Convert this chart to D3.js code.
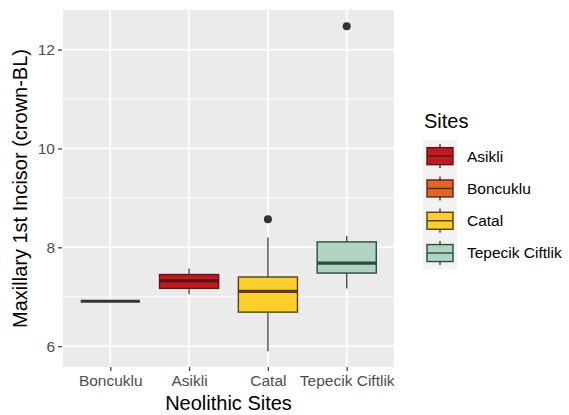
<!DOCTYPE html>
<html>
<head>
<meta charset="utf-8">
<script src="https://cdn.jsdelivr.net/npm/d3@7"></script>
<style>
  html, body { margin: 0; padding: 0; background: #ffffff; }
  svg { display: block; font-family: "Liberation Sans", Arial, sans-serif; }
</style>
</head>
<body>
<svg id="chart" width="569" height="415"></svg>
<script>
// ---- data ----
const sites = ["Boncuklu", "Asikli", "Catal", "Tepecik Ciftlik"];
const whiskerLow  = [6.91, 7.05, 5.90, 7.17];
const q1          = [6.91, 7.17, 6.69, 7.48];
const median      = [6.91, 7.32, 7.11, 7.68];
const q3          = [6.91, 7.45, 7.40, 8.11];
const whiskerHigh = [6.91, 7.57, 8.20, 8.23];
const outliers    = [[], [], [8.57], [12.47]];
const yTicks = [6, 8, 10, 12];
const yMinor = [7, 9, 11];
const legendSites = ["Asikli", "Boncuklu", "Catal", "Tepecik Ciftlik"];
const fillColors = {"Asikli": "#c0191f", "Boncuklu": "#e0642c", "Catal": "#fccd2e", "Tepecik Ciftlik": "#afd4c2"};
const lineColors = {"Asikli": "#5a1414", "Boncuklu": "#333333", "Catal": "#55420f", "Tepecik Ciftlik": "#2f4a3c"};

// ---- layout ----
const svg = d3.select("#chart");
const panel = {left: 63, right: 394, top: 10, bottom: 367};

const x = d3.scalePoint().domain(sites).range([panel.left, panel.right]).padding(0.6);
const y = d3.scaleLinear().domain([5.58, 12.80]).range([panel.bottom, panel.top]);
const boxW = x.step() * 0.75;

// panel background
svg.append("rect")
  .attr("x", panel.left).attr("y", panel.top)
  .attr("width", panel.right - panel.left).attr("height", panel.bottom - panel.top)
  .attr("fill", "#ebebeb");

// grid
const g = svg.append("g");
g.selectAll("line.minor").data(yMinor).enter().append("line")
  .attr("x1", panel.left).attr("x2", panel.right)
  .attr("y1", d => y(d)).attr("y2", d => y(d))
  .attr("stroke", "#ffffff").attr("stroke-width", 0.9);
g.selectAll("line.majory").data(yTicks).enter().append("line")
  .attr("x1", panel.left).attr("x2", panel.right)
  .attr("y1", d => y(d)).attr("y2", d => y(d))
  .attr("stroke", "#ffffff").attr("stroke-width", 1.8);
g.selectAll("line.majorx").data(sites).enter().append("line")
  .attr("x1", d => x(d)).attr("x2", d => x(d))
  .attr("y1", panel.top).attr("y2", panel.bottom)
  .attr("stroke", "#ffffff").attr("stroke-width", 1.8);

// axes
const yAxis = d3.axisLeft(y).tickValues(yTicks).tickSize(4).tickPadding(3).tickFormat(d3.format("d"));
const yg = svg.append("g").attr("transform", `translate(${panel.left - 1},0)`).call(yAxis);
yg.select(".domain").remove();
yg.selectAll(".tick line").attr("stroke", "#333333").attr("stroke-width", 1.2);
yg.selectAll(".tick text").attr("fill", "#4d4d4d").style("font-size", "15.5px");

const xAxis = d3.axisBottom(x).tickSize(4).tickPadding(4);
const xg = svg.append("g").attr("transform", `translate(0,${panel.bottom})`).call(xAxis);
xg.select(".domain").remove();
xg.selectAll(".tick line").attr("stroke", "#333333").attr("stroke-width", 1.2);
xg.selectAll(".tick text").attr("fill", "#4d4d4d").style("font-size", "15.5px").attr("dy", "0.72em");

// boxes
const data = sites.map((s, i) => ({site: s, lo: whiskerLow[i], q1: q1[i], med: median[i], q3: q3[i], hi: whiskerHigh[i], out: outliers[i]}));
const bx = svg.append("g");
data.forEach(d => {
  const cx = x(d.site);
  const grp = bx.append("g");
  // whiskers
  grp.append("line").attr("x1", cx).attr("x2", cx).attr("y1", y(d.hi)).attr("y2", y(d.q3))
    .attr("stroke", "#4d4d4d").attr("stroke-width", 1.4);
  grp.append("line").attr("x1", cx).attr("x2", cx).attr("y1", y(d.q1)).attr("y2", y(d.lo))
    .attr("stroke", "#4d4d4d").attr("stroke-width", 1.4);
  // box
  grp.append("rect")
    .attr("x", cx - boxW / 2).attr("width", boxW)
    .attr("y", y(d.q3)).attr("height", Math.max(0, y(d.q1) - y(d.q3)))
    .attr("fill", fillColors[d.site]).attr("stroke", lineColors[d.site]).attr("stroke-width", 1.4);
  // median
  grp.append("line").attr("x1", cx - boxW / 2).attr("x2", cx + boxW / 2)
    .attr("y1", y(d.med)).attr("y2", y(d.med))
    .attr("stroke", lineColors[d.site]).attr("stroke-width", 3.2);
  // outliers
  grp.selectAll("circle").data(d.out).enter().append("circle")
    .attr("cx", cx).attr("cy", v => y(v)).attr("r", 4)
    .attr("fill", "#333333");
});

// axis titles
svg.append("text")
  .attr("x", (panel.left + panel.right) / 2).attr("y", 410)
  .attr("text-anchor", "middle").style("font-size", "20px").attr("fill", "#000")
  .text("Neolithic Sites");
svg.append("text")
  .attr("transform", `translate(27,${(panel.top + panel.bottom) / 2}) rotate(-90)`)
  .attr("text-anchor", "middle").style("font-size", "20px").attr("fill", "#000")
  .text("Maxillary 1st Incisor (crown-BL)");

// legend
const lg = svg.append("g");
lg.append("text").attr("x", 424).attr("y", 128).style("font-size", "20px").attr("fill", "#000").text("Sites");
const rowH = 32.3, row0 = 140;
legendSites.forEach((s, i) => {
  const top = row0 + i * rowH;
  const cy = top + rowH / 2;
  const lc = lineColors[s] === "#333333" ? "#5a2a10" : lineColors[s];
  lg.append("rect").attr("x", 423).attr("y", top).attr("width", 34).attr("height", rowH)
    .attr("fill", "#f2f2f2");
  lg.append("line").attr("x1", 440).attr("x2", 440).attr("y1", cy - 12).attr("y2", cy + 12)
    .attr("stroke", lc).attr("stroke-width", 1.4);
  lg.append("rect").attr("x", 427).attr("y", cy - 8.5).attr("width", 26).attr("height", 17)
    .attr("fill", fillColors[s]).attr("stroke", lc).attr("stroke-width", 1.4);
  lg.append("line").attr("x1", 427).attr("x2", 453).attr("y1", cy).attr("y2", cy)
    .attr("stroke", lc).attr("stroke-width", 1.4);
  lg.append("text").attr("x", 467).attr("y", cy).attr("dy", "0.35em")
    .style("font-size", "15.5px").attr("fill", "#000").text(s);
});
</script>
</body>
</html>
